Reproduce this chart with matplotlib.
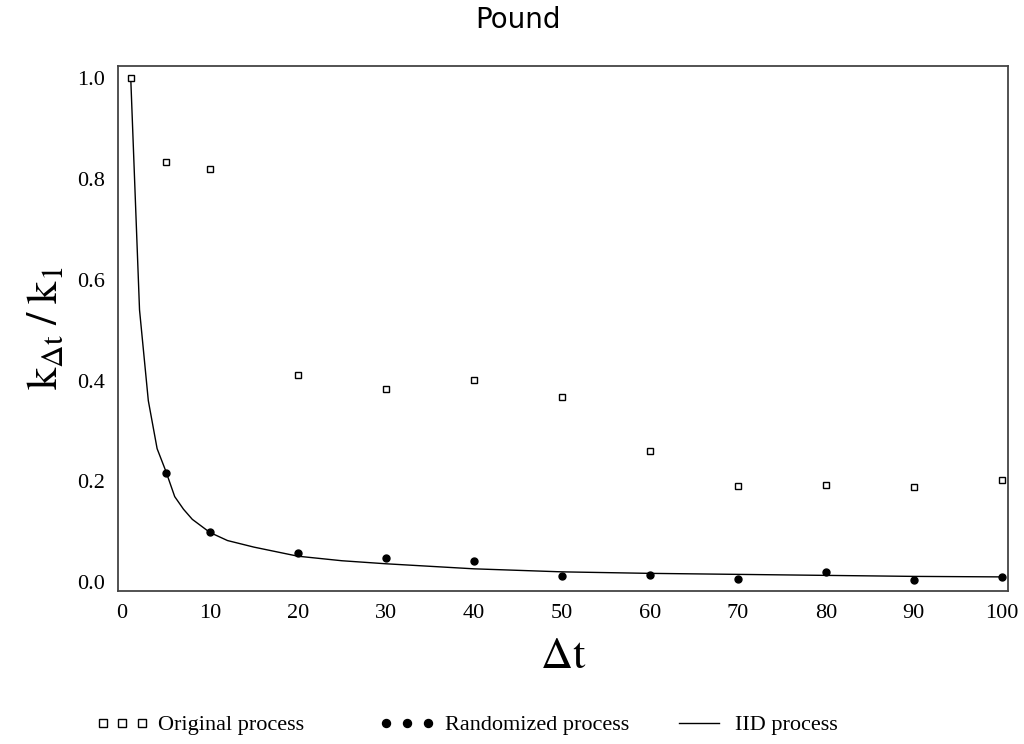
import matplotlib
matplotlib.use("Agg")
import matplotlib.pyplot as plt

# Values
dt_points = [1, 5, 10, 20, 30, 40, 50, 60, 70, 80, 90, 100]
original = [1.0, 0.833, 0.818, 0.411, 0.383, 0.401, 0.367, 0.260, 0.192, 0.193, 0.190, 0.203]

dt_rand = [5, 10, 20, 30, 40, 50, 60, 70, 80, 90, 100]
randomized = [0.216, 0.099, 0.058, 0.049, 0.043, 0.012, 0.015, 0.006, 0.020, 0.004, 0.011]

dt_iid = [1, 2, 3, 4, 5, 6, 7, 8, 10, 12, 15, 20, 25, 30, 40, 50, 60, 70, 80, 90, 100]
iid = [1.0, 0.54, 0.36, 0.265, 0.22, 0.17, 0.145, 0.125, 0.099, 0.083, 0.07, 0.052,
       0.043, 0.037, 0.027, 0.021, 0.018, 0.016, 0.014, 0.012, 0.011]

xticks = [0, 10, 20, 30, 40, 50, 60, 70, 80, 90, 100]
yticks = [0.0, 0.2, 0.4, 0.6, 0.8, 1.0]

plt.rcParams["mathtext.fontset"] = "stix"
serif = "Liberation Serif"

fig = plt.figure(figsize=(10.24, 7.44), dpi=100)
ax = fig.add_axes([0.1152, 0.2056, 0.8691, 0.7057])

iid_line, = ax.plot(dt_iid, iid, color="black", linewidth=1.0)
orig_pts, = ax.plot(dt_points, original, linestyle="none", marker="s", markersize=5,
                    markerfacecolor="white", markeredgecolor="black", markeredgewidth=1.0)
rand_pts, = ax.plot(dt_rand, randomized, linestyle="none", marker="o", markersize=5,
                    color="black")

ax.set_xlim(-0.45, 100.7)
ax.set_ylim(-0.017, 1.023)
ax.set_xticks(xticks)
ax.set_xticklabels([str(t) for t in xticks], fontfamily=serif, fontsize=16)
ax.set_yticks(yticks)
ax.set_yticklabels([f"{t:.1f}" for t in yticks], fontfamily=serif, fontsize=16)
ax.tick_params(length=0, pad=9)
for s in ax.spines.values():
    s.set_color("#444444")
    s.set_linewidth(1.3)

fig.text(518 / 1024, 1 - 20 / 744, "Pound", fontfamily="DejaVu Sans", fontsize=20,
         ha="center", va="center")
ax.set_xlabel(r"$\mathrm{\Delta t}$", fontsize=32, labelpad=8)
ax.set_ylabel(r"$\mathrm{k_{\Delta t}\;/\;k_1}$", fontsize=32, labelpad=8)

# legend: three separate entries, placed like the reference
leg_y = 1 - 725 / 744
entries = [(orig_pts, "Original process", 96, 2.35),
           (rand_pts, "Randomized process", 379, 2.5),
           (iid_line, "IID process", 672, 2.4)]
for h, lab, x0, hl in entries:
    fig.legend([h], [lab], loc="center left", bbox_to_anchor=(x0 / 1024, leg_y),
               frameon=False, numpoints=3, handlelength=hl, handletextpad=0.45,
               borderpad=0, borderaxespad=0, markerscale=1.15,
               prop={"family": serif, "size": 16})

fig.savefig("out.png", dpi=100)
